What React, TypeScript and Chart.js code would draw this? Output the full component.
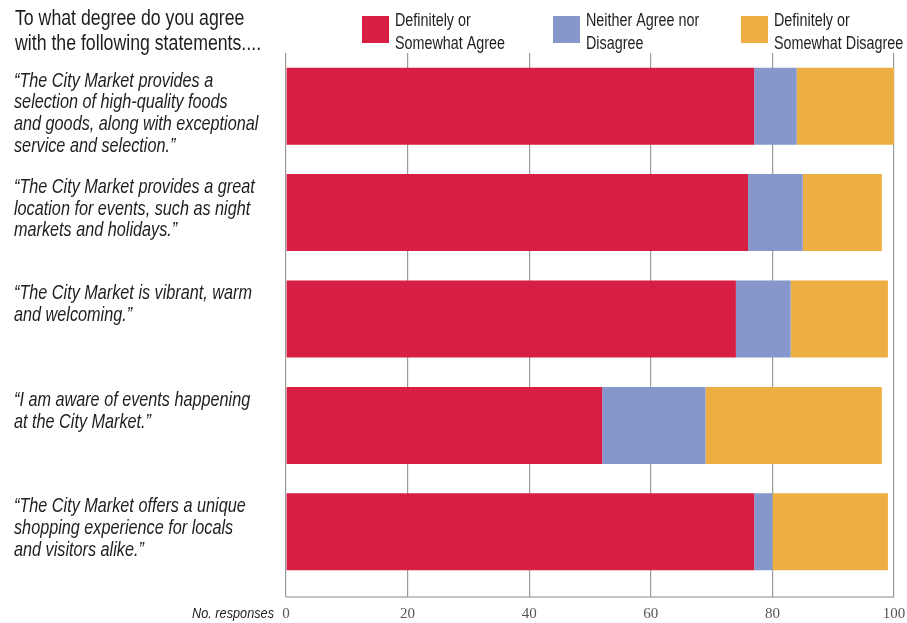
import React, { useEffect, useRef } from "react";
import { Chart, registerables } from "chart.js";

Chart.register(...registerables);

const categories: string[][] = [
  ["“The City Market provides a", "selection of high-quality foods", "and goods, along with exceptional", "service and selection.”"],
  ["“The City Market provides a great", "location for events, such as night", "markets and holidays.”"],
  ["“The City Market is vibrant, warm", "and welcoming.”"],
  ["“I am aware of events happening", "at the City Market.”"],
  ["“The City Market offers a unique", "shopping experience for locals", "and visitors alike.”"],
];
const agree = [77, 76, 74, 52, 77];
const neither = [7, 9, 9, 17, 3];
const disagree = [16, 13, 16, 29, 19];
const seriesNames: string[][] = [
  ["Definitely or", "Somewhat Agree"],
  ["Neither Agree nor", "Disagree"],
  ["Definitely or", "Somewhat Disagree"],
];
const colors = ["#D61F42", "#8698CB", "#EDAF43"];
const titleLines = ["To what degree do you agree", "with the following statements...."];
const xTicks = [0, 20, 40, 60, 80, 100];
const axisCaption = "No. responses";

const SANS = "'Liberation Sans', Arial, sans-serif";
const NARROW = 0.82;

function narrowText(ctx: CanvasRenderingContext2D, text: string, x: number, y: number) {
  ctx.save();
  ctx.translate(x, y);
  ctx.scale(NARROW, 1);
  ctx.fillText(text, 0, 0);
  ctx.restore();
}

const textPlugin = {
  id: "customText",
  afterDraw(chart: any) {
    const ctx = chart.ctx as CanvasRenderingContext2D;
    const area = chart.chartArea;
    const xs = chart.scales.x;
    ctx.save();
    // bottom axis line
    ctx.strokeStyle = "#8a8a8a";
    ctx.lineWidth = 1.2;
    ctx.beginPath();
    ctx.moveTo(xs.getPixelForValue(0), area.bottom + 12);
    ctx.lineTo(xs.getPixelForValue(100), area.bottom + 12);
    ctx.stroke();

    // title
    ctx.fillStyle = "#1e1e1e";
    ctx.textBaseline = "middle";
    ctx.textAlign = "left";
    ctx.font = `21.6px ${SANS}`;
    titleLines.forEach((t, i) => narrowText(ctx, t, 15, 19 + i * 25));

    // legend
    const legendX = [362, 553, 741];
    ctx.font = `17.5px ${SANS}`;
    seriesNames.forEach((lines, i) => {
      ctx.fillStyle = colors[i];
      ctx.fillRect(legendX[i], 16, 27, 27);
      ctx.fillStyle = "#1e1e1e";
      lines.forEach((l, j) => narrowText(ctx, l, legendX[i] + 33, 21 + j * 23));
    });

    // category labels
    const meta = chart.getDatasetMeta(0);
    ctx.font = `italic 19.8px ${SANS}`;
    ctx.fillStyle = "#1e1e1e";
    categories.forEach((lines, i) => {
      const el = meta.data[i] as any;
      const top = el.y - el.height / 2;
      lines.forEach((l, j) => narrowText(ctx, l, 14, top + 13.5 + j * 21.7));
    });

    // axis caption
    ctx.font = `italic 15.5px ${SANS}`;
    ctx.textAlign = "right";
    narrowText(ctx, axisCaption, 274, area.bottom + 29);
    ctx.restore();
  },
};

export default function App() {
  const ref = useRef<HTMLCanvasElement | null>(null);
  useEffect(() => {
    if (!ref.current) return;
    const chart = new Chart(ref.current, {
      type: "bar",
      data: {
        labels: categories.map((c) => c.join(" ")),
        datasets: [
          { label: seriesNames[0].join(" "), data: agree, backgroundColor: colors[0] },
          { label: seriesNames[1].join(" "), data: neither, backgroundColor: colors[1] },
          { label: seriesNames[2].join(" "), data: disagree, backgroundColor: colors[2] },
        ],
      },
      options: {
        indexAxis: "y",
        animation: false,
        responsive: false,
        maintainAspectRatio: false,
        layout: { padding: { left: 286, right: 13, top: 53, bottom: 0 } },
        datasets: { bar: { categoryPercentage: 1, barPercentage: 0.724, borderWidth: 0 } },
        plugins: { legend: { display: false }, tooltip: { enabled: false } },
        scales: {
          x: {
            stacked: true,
            min: 0,
            max: 100,
            afterBuildTicks: (s: any) => {
              s.ticks = xTicks.map((v) => ({ value: v }));
            },
            afterFit: (s: any) => {
              s.height = 38;
              s.paddingLeft = 0;
              s.paddingRight = 0;
            },
            border: { display: false },
            grid: { color: "#9a9a9a", lineWidth: 1.2, tickLength: 12, drawTicks: true },
            ticks: {
              padding: 8,
              color: "#555",
              font: { family: "'Liberation Serif', 'Times New Roman', serif", size: 15 },
            },
          },
          y: {
            stacked: true,
            display: false,
            grid: { display: false },
          },
        },
      },
      plugins: [textPlugin],
    });
    return () => chart.destroy();
  }, []);
  return (
    <div style={{ position: "fixed", left: 0, top: 0, width: 907, height: 623, background: "#fff" }}>
      <canvas ref={ref} width={907} height={623} style={{ display: "block" }} />
    </div>
  );
}
